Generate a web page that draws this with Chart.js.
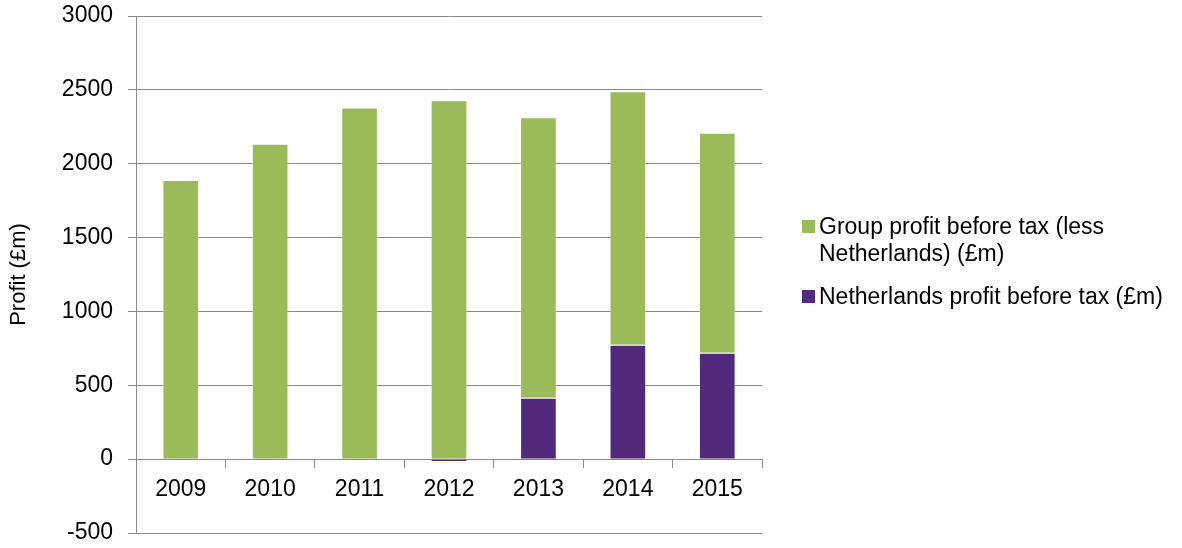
<!DOCTYPE html>
<html>
<head>
<meta charset="utf-8">
<script src="https://cdn.jsdelivr.net/npm/chart.js@4/dist/chart.umd.min.js"></script>
<style>
  body { margin: 0; background: #fff; }
  #wrap { position: relative; width: 1182px; height: 548px; }
  #legend { position: absolute; left: 802px; top: 213px; font-family: "Liberation Sans", Arial, sans-serif; font-size: 23px; line-height: 26.7px; color: #000; }
  .item { position: relative; padding-left: 17px; margin-bottom: 17px; }
  .box { position: absolute; left: 0; top: 7px; width: 13px; height: 13px; }
</style>
</head>
<body>
<div id="wrap">
  <canvas id="grafica" width="1182" height="548"></canvas>
  <div id="legend"></div>
</div>
<script>
// datos
const years = ["2009", "2010", "2011", "2012", "2013", "2014", "2015"];
const grupoSinNL = [1890, 2135, 2380, 2430, 1900, 1715, 1490];
const holanda = [0, 0, 0, -20, 415, 775, 720];
const nombreGrupo = ["Group profit before tax (less", "Netherlands) (£m)"];
const nombreHolanda = "Netherlands profit before tax (£m)";

const verde = '#9bbb59';
const morado = '#532a7b';
const gris = '#8a8a8a';
const fuente = "'Liberation Sans', Arial, sans-serif";

// leyenda en html (el texto del grupo va en dos líneas)
const $leyenda = document.querySelector("#legend");
[[nombreGrupo.join("<br>"), verde], [nombreHolanda, morado]].forEach(([txt, col]) => {
    const d = document.createElement("div");
    d.className = "item";
    d.innerHTML = '<span class="box" style="background:' + col + '"></span>' + txt;
    $leyenda.appendChild(d);
});

const $grafica = document.querySelector("#grafica");
new Chart($grafica, {
    type: 'bar',
    data: {
        labels: years,
        datasets: [
            {
                label: nombreHolanda,
                data: holanda,
                backgroundColor: morado,
                borderColor: 'rgba(255,255,255,0.35)',
                borderWidth: 1,
                barPercentage: 0.41,
                categoryPercentage: 1
            },
            {
                label: nombreGrupo.join(" "),
                data: grupoSinNL,
                backgroundColor: verde,
                borderColor: 'rgba(255,255,255,0.35)',
                borderWidth: 1,
                barPercentage: 0.41,
                categoryPercentage: 1
            }
        ]
    },
    options: {
        responsive: false,
        animation: false,
        layout: { padding: { top: 16, right: 420, bottom: 15, left: 0 } },
        plugins: { legend: { display: false }, tooltip: { enabled: false } },
        scales: {
            x: {
                stacked: true,
                position: { y: 0 },
                grid: { drawOnChartArea: false, drawTicks: true, tickLength: 8, color: gris, offset: true },
                border: { color: gris, width: 1 },
                ticks: { color: '#000', padding: 9, font: { family: fuente, size: 23 } }
            },
            y: {
                stacked: true,
                min: -500,
                max: 3000,
                ticks: { stepSize: 500, color: '#000', padding: 15, font: { family: fuente, size: 23 }, callback: (v) => String(v) },
                grid: { color: gris, tickLength: 8, drawTicks: true },
                border: { color: gris, width: 1 },
                title: { display: true, text: 'Profit (£m)', color: '#000', font: { family: fuente, size: 22 }, padding: { top: 6, bottom: 4 } },
                afterFit: (s) => { s.width = 136; s.paddingTop = 0; s.paddingBottom = 0; }
            }
        }
    }
});
</script>
</body>
</html>
